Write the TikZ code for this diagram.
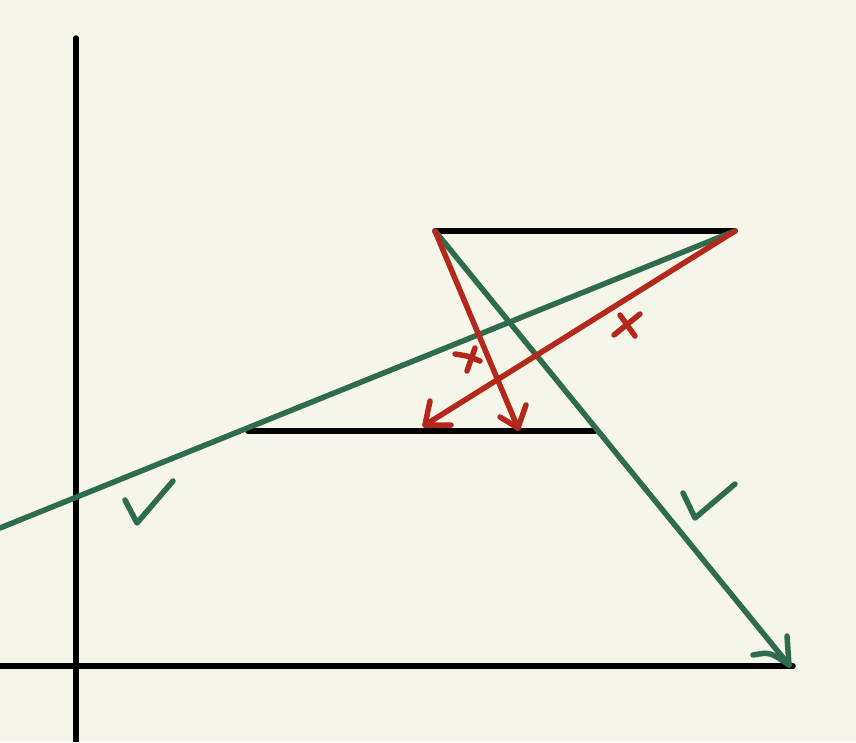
\documentclass[tikz,border=0pt]{standalone}
\definecolor{bg}{HTML}{F5F6E9}
\definecolor{gr}{HTML}{2E6B4F}
\definecolor{rd}{HTML}{B3281A}
\begin{document}
\begin{tikzpicture}[x=1pt,y=-1pt,
  axis/.style={line width=5.5pt,black},
  seg/.style={line width=5.5pt,black,line cap=round},
  grl/.style={line width=5.5pt,gr,line cap=round,line join=round},
  rdl/.style={line width=5.5pt,rd,line cap=round,line join=round}]
\fill[bg] (0,0) rectangle (856,742);
\useasboundingbox (0,0) rectangle (856,742);
% axes
\coordinate (vt) at (76,38); \coordinate (vb) at (76,742);
\coordinate (hl) at (0,666); \coordinate (hr) at (793,666);
\draw[axis,line cap=round] (vt) -- (76,738);
\draw[axis] (76,735) -- (vb);
\draw[axis] (hl) -- (4,666);
\draw[axis,line cap=round] (4,666) -- (hr);
% segments
\coordinate (A) at (435,231); \coordinate (B) at (735,231);
\coordinate (C) at (248,431); \coordinate (D) at (595,431);
\draw[seg] (A) -- (B);
\draw[seg] (C) -- (D);
% green lines
\coordinate (G0) at (0,528);
\draw[grl] (B) -- (G0);
\coordinate (GT) at (789,665);
\draw[grl] (A) -- (GT);
\draw[grl] (787,636) -- (GT);
\draw[grl] (753,655) .. controls (770,652) .. (GT);
% red arrows
\coordinate (R1) at (425,425);
\draw[rdl] (B) -- (R1);
\draw[rdl] (430,401) -- (R1) -- (451,425);
\coordinate (R2) at (518,428);
\draw[rdl] (A) -- (R2);
\draw[rdl] (500,417) -- (R2) -- (526,405);
% crosses
\draw[rdl] (455,354) .. controls (468,356) .. (480,361);
\draw[rdl] (475,348) -- (467,371);
\draw[rdl] (620,315) -- (635,336);
\draw[rdl] (640,314) -- (614,335);
% checks
\draw[grl] (125,500) -- (137,523) -- (173,481);
\draw[grl] (683,493) -- (695,518) -- (735,484);
\end{tikzpicture}
\end{document}
